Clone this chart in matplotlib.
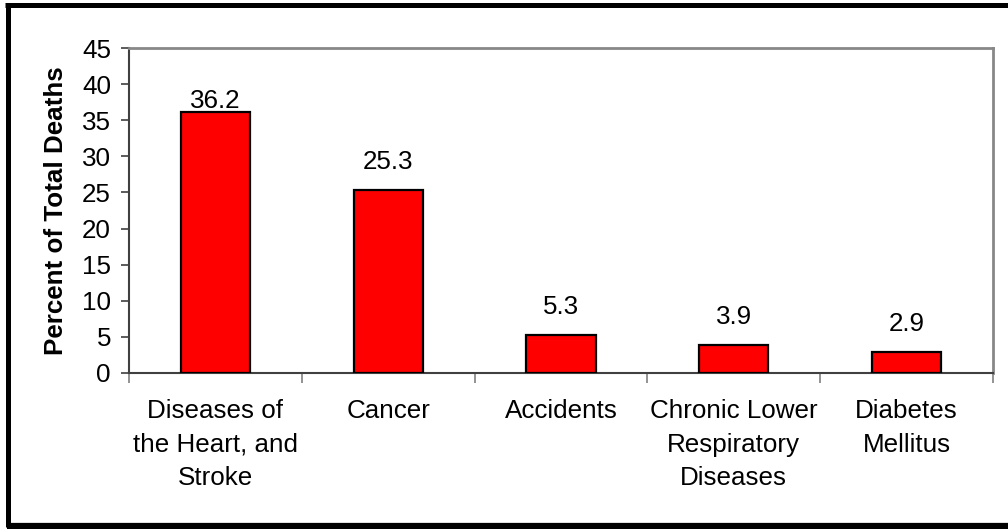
import matplotlib
matplotlib.use("Agg")
import matplotlib.pyplot as plt
from matplotlib.lines import Line2D

# data
categories = ["Diseases of\nthe Heart, and\nStroke", "Cancer", "Accidents",
              "Chronic Lower\nRespiratory\nDiseases", "Diabetes\nMellitus"]
percent = [36.2, 25.3, 5.3, 3.9, 2.9]
value_labels = ["36.2", "25.3", "5.3", "3.9", "2.9"]
y_ticks = [0, 5, 10, 15, 20, 25, 30, 35, 40, 45]

plt.rcParams["font.family"] = ["Liberation Sans", "DejaVu Sans"]
W, H = 1008, 529
FS = 18.7
fig = plt.figure(figsize=(W / 100, H / 100), dpi=100)
ax = fig.add_axes([129 / W, 1 - 373 / H, (993 - 129) / W, (373 - 48) / H])

x = list(range(len(categories)))
ax.bar(x, percent, width=0.4, color="#ff0000", edgecolor="black", linewidth=1.6, zorder=3)

# value labels, first one squeezed down by the plot top like in excel
offsets = [-1, 16, 16, 16, 16]
for xi, v, lab, off in zip(x, percent, value_labels, offsets):
    ax.annotate(lab, (xi, v), xytext=(0, off * 0.72), textcoords="offset points",
                ha="center", va="bottom", fontsize=FS, clip_on=False)

ax.set_xlim(-0.5, len(categories) - 0.5)
ax.set_ylim(0, 45)
ax.set_yticks(y_ticks)
ax.tick_params(axis="y", labelsize=FS, length=6, width=1.2, color="#404040", pad=7)
ax.set_xticks([i + 0.5 for i in range(-1, len(categories))])
ax.set_xticklabels([])
ax.set_xticks(x, minor=True)
ax.set_xticklabels(categories, minor=True, fontsize=FS, linespacing=1.49)
ax.tick_params(axis="x", which="major", length=7, width=1.2, color="#808080", direction="out")
ax.tick_params(axis="x", which="minor", length=0, pad=19)

ax.set_ylabel("Percent of Total Deaths", fontsize=FS, fontweight="bold", labelpad=10)

for side in ["left", "bottom"]:
    ax.spines[side].set_color("#404040")
    ax.spines[side].set_linewidth(1.5)
for side in ["top", "right"]:
    ax.spines[side].set_color("#888888")
    ax.spines[side].set_linewidth(2)

# outer frame of the figure (top, left, bottom only)
fig.add_artist(Line2D([5 / W, 1.0], [1 - 5 / H, 1 - 5 / H], transform=fig.transFigure,
                      color="black", linewidth=3.6, solid_capstyle="butt"))
fig.add_artist(Line2D([7.5 / W, 7.5 / W], [1 - 3 / H, 1 - 527 / H], transform=fig.transFigure,
                      color="black", linewidth=3.6, solid_capstyle="butt"))
fig.add_artist(Line2D([7 / W, 1.0], [1 - 525.5 / H, 1 - 525.5 / H], transform=fig.transFigure,
                      color="black", linewidth=4.5, solid_capstyle="butt"))

fig.savefig("out.png", dpi=100)
